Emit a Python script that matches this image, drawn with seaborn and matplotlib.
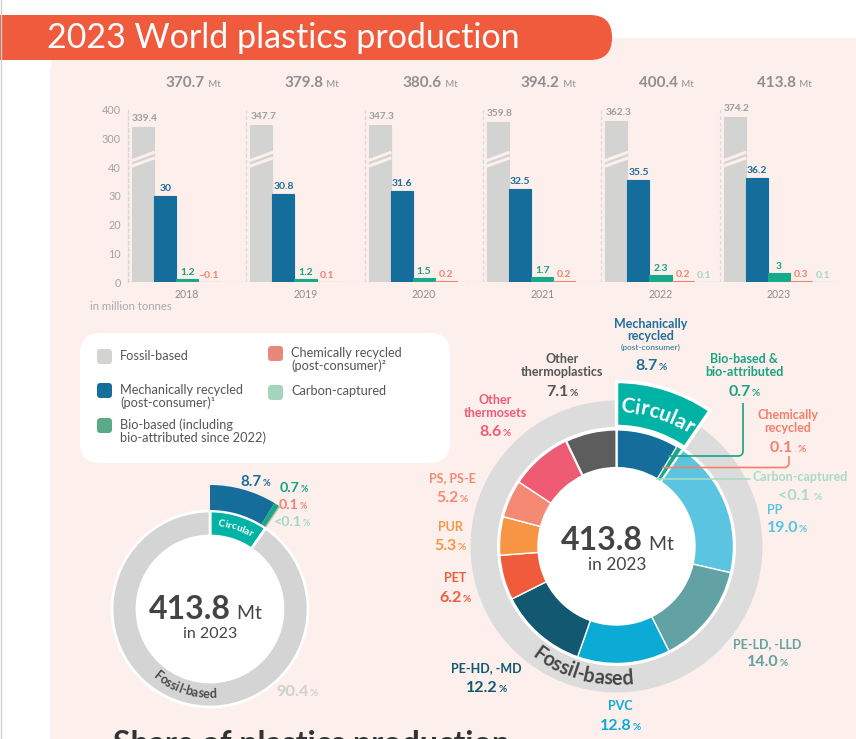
import matplotlib
matplotlib.use('Agg')
import matplotlib.pyplot as plt
from matplotlib.patches import FancyBboxPatch, Circle, PathPatch
from matplotlib.path import Path
from matplotlib.font_manager import FontProperties
import numpy as np
import pandas as pd
import seaborn as sns

# ---------------- data ----------------
years = ['2018', '2019', '2020', '2021', '2022', '2023']
totals = [370.7, 379.8, 380.6, 394.2, 400.4, 413.8]
fossil = [339.4, 347.7, 347.3, 359.8, 362.3, 374.2]
mech = [30, 30.8, 31.6, 32.5, 35.5, 36.2]
bio = [1.2, 1.2, 1.5, 1.7, 2.3, 3]
chem = [0.1, 0.1, 0.2, 0.2, 0.2, 0.3]
chem_labels = ['~0.1', '0.1', '0.2', '0.2', '0.2', '0.3']
carbon = [None, None, None, None, 0.1, 0.1]

types = ['Fossil-based', 'Mechanically recycled', 'Bio-based', 'Chemically recycled', 'Carbon-captured']
bar_colors = ['#d3d3d1', '#156d9b', '#16a98a', '#f2836f', '#a3d9c2']
bar_label_colors = ['#9e9e9e', '#1c6a98', '#16a085', '#f2836f', '#a3d9c2']
ytick_vals = [0, 10, 20, 30, 40, 300, 400]

legend_labels = ['Fossil-based', 'Mechanically recycled\n(post-consumer)\u00b9',
                 'Bio-based (including\nbio-attributed since 2022)',
                 'Chemically recycled\n(post-consumer)\u00b2', 'Carbon-captured']
legend_colors = ['#d3d3d1', '#156d9b', '#5aaa88', '#e8877a', '#a3d5bf']

share_names = ['Mechanically recycled', 'Bio-based', 'Chemically recycled', 'Carbon-captured', 'Fossil-based']
share_values = [8.7, 0.7, 0.1, 0.1, 90.4]
share_text = ['8.7', '0.7', '0.1', '<0.1', '90.4']
share_colors = ['#156d9b', '#16a98a', '#f2836f', '#a3d9c2', '#d4d4d4']
share_text_colors = ['#1c6a98', '#16a085', '#f2836f', '#a3d9c2', '#d0d0d0']

poly_names = ['Mechanically\nrecycled', 'Bio-based &\nbio-attributed', 'Chemically\nrecycled',
              'Carbon-captured', 'PP', 'PE-LD, -LLD', 'PVC', 'PE-HD, -MD', 'PET', 'PUR',
              'PS, PS-E', 'Other\nthermosets', 'Other\nthermoplastics']
poly_values = [8.7, 0.7, 0.1, 0.1, 19.0, 14.0, 12.8, 12.2, 6.2, 5.3, 5.2, 8.6, 7.1]
poly_text = ['8.7', '0.7', '0.1 ', '<0.1 ', '19.0', '14.0', '12.8', '12.2', '6.2', '5.3', '5.2', '8.6', '7.1']
poly_colors = ['#156d9b', '#16a98a', '#f2836f', '#a3d9c2', '#5bc4e0', '#62a1a4', '#0babd6',
               '#115870', '#f05b3b', '#f79545', '#f48a74', '#ef5b73', '#5d5d5d']
poly_text_colors = ['#1f6e9c', '#1aa383', '#f4806b', '#a9dcc4', '#5bc4e0', '#62a1a4', '#0babd6',
                    '#115870', '#f05b3b', '#f79545', '#f48a74', '#ef5b73', '#555555']
# label anchor positions (pixels) : x, name centre y, pct centre y
poly_label_pos = [(651, 330, 364), (744, 365.5, 391), (788, 421.5, 446), (800, 477, 495),
                  (775, 510, 527), (767, 644, 661), (620, 706, 724), (486, 668, 686),
                  (455, 578, 597), (450, 527, 545), (452, 478, 497), (495, 406.5, 431),
                  (562, 365.5, 390)]

TEAL = '#00b3a5'

# ---------------- setup ----------------
sns.set_theme(style='white')
FAM = ['Lato', 'DejaVu Sans']
plt.rcParams['font.family'] = FAM

W, H = 856, 739
fig = plt.figure(figsize=(W / 100, H / 100), dpi=100)
fig.patch.set_facecolor('white')
renderer = fig.canvas.get_renderer()


def fp(size, weight='normal'):
    return FontProperties(family=FAM, size=size, weight=weight)


def tw(s, prop):
    if not s:
        return 0.0
    w, h, d = renderer.get_text_width_height_descent(s, prop, ismath=False)
    return w


bg = fig.add_axes([0, 0, 1, 1], zorder=0, label='bg')
bg.set_xlim(0, W); bg.set_ylim(H, 0); bg.axis('off')
fg = fig.add_axes([0, 0, 1, 1], zorder=20, label='fg')
fg.set_xlim(0, W); fg.set_ylim(H, 0); fg.axis('off')


def two_part(ax, x, y, big, small, color, size, small_size, weight='bold', small_weight=None,
             ha='center', gap=1.0):
    p1 = fp(size, weight)
    p2 = fp(small_size, small_weight or weight)
    w1 = tw(big, p1)
    w2 = tw(small, p2)
    total = w1 + gap + w2
    x0 = x - total / 2 if ha == 'center' else x
    ax.text(x0, y, big, ha='left', va='baseline', fontproperties=p1, color=color)
    ax.text(x0 + w1 + gap, y, small, ha='left', va='baseline', fontproperties=p2, color=color)


def arc_text(ax, s, cx, cy, r, mid_deg, prop, color, top=True):
    total = tw(s, prop)
    mid = np.radians(mid_deg)
    for i, ch in enumerate(s):
        a = tw(s[:i], prop)
        b = tw(s[:i + 1], prop)
        off = (a + b) / 2 - total / 2
        if top:
            th = mid - off / r
            rot = np.degrees(th) - 90
        else:
            th = mid + off / r
            rot = np.degrees(th) + 90
        x = cx + r * np.cos(th)
        y = cy - r * np.sin(th)
        ax.text(x, y, ch, rotation=rot, rotation_mode='anchor', ha='center', va='baseline',
                fontproperties=prop, color=color)


# ---------------- backgrounds ----------------
bg.plot([0.5, 0.5], [0, H], color='#d0d0d0', lw=1)
bg.add_patch(FancyBboxPatch((50, 38), 900, 800, boxstyle='round,pad=0,rounding_size=36',
                            fc='#fcefec', ec='none'))
bg.add_patch(FancyBboxPatch((-40, 15), 652, 45, boxstyle='round,pad=0,rounding_size=22',
                            fc='#f05b3e', ec='none'))
fg.text(47, 38, '2023 World plastics production', color='white', fontproperties=fp(24.5),
        ha='left', va='center')
bg.add_patch(FancyBboxPatch((80, 333), 370, 130, boxstyle='round,pad=0,rounding_size=20',
                            fc='white', ec='none'))

# ---------------- bar chart ----------------
ax = fig.add_axes([128 / W, (H - 282) / H, 710 / W, 172 / H], zorder=5)
ax.set_facecolor('none')


def fwd(v):
    v = np.asarray(v, dtype=float)
    return np.where(v <= 40, v, np.where(v < 300, 40 + (v - 40) / 26.0, 50 + (v - 300) / 10.0))


def inv(u):
    u = np.asarray(u, dtype=float)
    return np.where(u <= 40, u, np.where(u < 50, 40 + (u - 40) * 26.0, 300 + (u - 50) * 10.0))


rows = []
for t, vals in zip(types, [fossil, mech, bio, chem, carbon]):
    for yv, v in zip(years, vals):
        rows.append((yv, t, np.nan if v is None else float(v)))
df = pd.DataFrame(rows, columns=['year', 'type', 'value'])

sns.barplot(data=df, x='year', y='value', hue='type', hue_order=types, order=years,
            palette=dict(zip(types, bar_colors)), width=0.93, gap=0, saturation=1,
            dodge=True, legend=False, errorbar=None, ax=ax, zorder=3)
ax.set_yscale('function', functions=(fwd, inv))
ax.set_ylim(0, 400)
ax.set_xlim(-0.5, len(years) - 0.5)
ax.set_yticks(ytick_vals)
ax.set_yticklabels([str(v) for v in ytick_vals])
ax.set_xlabel(''); ax.set_ylabel('')
ax.tick_params(axis='y', length=0, pad=5, labelsize=7.8, labelcolor='#a3a3a3')
ax.tick_params(axis='x', length=0, pad=5, labelsize=7.6, labelcolor='#8e8e8e')
for s in ['top', 'right', 'bottom']:
    ax.spines[s].set_visible(False)
ax.spines['left'].set_color('#d6d6d6')
ax.spines['left'].set_linestyle((0, (3, 2)))
ax.spines['left'].set_linewidth(0.9)
ax.axhline(0, color='#d6d6d6', ls=(0, (3, 2)), lw=0.9, zorder=1)
for k in range(len(years) - 1):
    ax.axvline(k + 0.5, color='#dadada', ls=(0, (3, 2)), lw=0.9, zorder=1)

for ci, cont in enumerate(ax.containers):
    for bar in cont:
        h = bar.get_height()
        if h is None or np.isnan(h):
            continue
        bar.set_edgecolor(bar.get_facecolor())
        bar.set_linewidth(0.8)
        xc = bar.get_x() + bar.get_width() / 2
        yi = int(round(xc))
        if ci == 0:
            ax.annotate(f'{h:g}', (bar.get_x(), h), xytext=(0, 4), textcoords='offset pixels',
                        ha='left', va='bottom', fontproperties=fp(7.3, 'bold'),
                        color=bar_label_colors[ci])
            x0, x1 = bar.get_x() - 0.005, bar.get_x() + bar.get_width() + 0.005
            ax.plot([x0, x1], [100, 178], color='#fcefec', lw=2.2, zorder=4,
                    solid_capstyle='butt')
            ax.plot([x0, x1], [50, 126], color='#fcefec', lw=2.2, zorder=4,
                    solid_capstyle='butt')
        else:
            lab = chem_labels[yi] if ci == 3 else f'{h:g}'
            ax.annotate(lab, (xc, h), xytext=(0, 3 if ci == 1 else 2),
                        textcoords='offset pixels', ha='center', va='bottom',
                        fontproperties=fp(7.5, 'bold'), color=bar_label_colors[ci])

for i, t in enumerate(totals):
    px = ax.transData.transform((i, 0))[0]
    two_part(fg, px + 6, 87, f'{t:g}', ' Mt', '#8f8f8f', 11, 6.8, weight='bold',
             small_weight='normal')

fg.text(90, 306, 'in million tonnes', fontproperties=fp(8.2), color='#ababab',
        ha='left', va='center')

# ---------------- legend ----------------
leg_pos = [(97, 349, 357), (97, 383, 391), (97, 418, 425), (268, 346, 354), (268, 385, 392)]
for (sx, sy, ty), lab, col in zip(leg_pos, legend_labels, legend_colors):
    bg.add_patch(FancyBboxPatch((sx, sy), 15, 15, boxstyle='round,pad=0,rounding_size=3.5',
                                fc=col, ec='none'))
    fg.text(sx + 23, ty - 7, lab, fontproperties=fp(9.2), color='#555555', ha='left',
            va='top', linespacing=1.08)

# ---------------- left donut ----------------
cxL, cyL, uL = 210, 609, 98.0
axL = fig.add_axes([(cxL - 140) / W, (H - cyL - 140) / H, 280 / W, 280 / H], zorder=6)
circ = sum(share_values[:4])
wd, _ = axL.pie([circ, share_values[4]], radius=1.0, colors=[TEAL, share_colors[4]],
                startangle=90, counterclock=False,
                wedgeprops=dict(width=25 / uL, edgecolor='white', linewidth=2))
wd, _ = axL.pie(share_values, radius=124 / uL, colors=share_colors, startangle=90,
                counterclock=False, wedgeprops=dict(width=25 / uL, linewidth=0))
wd[-1].set_visible(False)
axL.add_patch(Circle((0, 0), 73 / uL, fc='white', ec='none'))
axL.set_xlim(-140 / uL, 140 / uL); axL.set_ylim(-140 / uL, 140 / uL)
axL.set_aspect('equal'); axL.axis('off')

lpos = [(255, 486), (294, 492), (293, 509), (292, 526), (297, 696)]
lsz = [10.8, 10.3, 10.3, 10.3, 11.8]
for (x, y), txt, col, sz in zip(lpos, share_text, share_text_colors, lsz):
    two_part(fg, x, y, txt, '%', col, sz, sz * 0.62)
arc_text(fg, 'Circular', cxL, cyL, 83, 90 - circ * 1.8, fp(7.2, 'bold'), 'white', top=True)
arc_text(fg, 'Fossil-based', cxL, cyL, 89, 252, fp(9, 'bold'), '#4a4a4a', top=False)
two_part(fg, 205, 619, '413.8', ' Mt', '#444444', 23, 14, weight='bold', small_weight='normal')
fg.text(210, 634, 'in 2023', fontproperties=fp(11.5), color='#444444', ha='center', va='center')

# ---------------- right donut ----------------
cxR, cyR, uR = 616.5, 546.5, 146.0
axR = fig.add_axes([(cxR - 190) / W, (H - cyR - 190) / H, 380 / W, 380 / H], zorder=6)
wd, _ = axR.pie(poly_values, radius=117 / uR, colors=poly_colors, startangle=90,
                counterclock=False, wedgeprops=dict(width=38.5 / uR, edgecolor='white',
                                                    linewidth=1.0))
wd[0].set_linewidth(1.6); wd[-1].set_linewidth(1.6)
for w_ in wd[1:4]:
    w_.set_linewidth(0.3)
axR.pie([1], radius=120.5 / uR, colors=['white'], wedgeprops=dict(width=3.5 / uR, linewidth=0))
circR = sum(poly_values[:4])
wd, _ = axR.pie([circR, 100 - circR], radius=1.0, colors=[TEAL, '#dcdcdc'], startangle=90,
                counterclock=False, wedgeprops=dict(width=26.5 / uR, linewidth=0))
wd[0].set_visible(False)
wd, _ = axR.pie([circR, 100 - circR], radius=165 / uR, colors=[TEAL, '#dcdcdc'], startangle=90,
                counterclock=False, wedgeprops=dict(width=45 / uR, edgecolor='white',
                                                    linewidth=2.5))
wd[1].set_visible(False)
axR.add_patch(Circle((0, 0), 78.5 / uR, fc='white', ec='none'))
axR.set_xlim(-190 / uR, 190 / uR); axR.set_ylim(-190 / uR, 190 / uR)
axR.set_aspect('equal'); axR.axis('off')

arc_text(fg, 'Circular', cxR, cyR, 134, 90 - circR * 1.8, fp(15, 'bold'), 'white', top=True)
arc_text(fg, 'Fossil-based', cxR, cyR, 138.5, 254.5, fp(14.2, 'bold'), '#454545', top=False)
two_part(fg, 617, 550, '413.8', ' Mt', '#444444', 23, 14, weight='bold', small_weight='normal')
fg.text(617, 565, 'in 2023', fontproperties=fp(12.5), color='#444444', ha='center', va='center')

for i, (name, txt, col, (x, ny, py)) in enumerate(zip(poly_names, poly_text, poly_text_colors,
                                                       poly_label_pos)):
    fg.text(x, ny, name, fontproperties=fp(9, 'bold'), color=col, ha='center', va='center',
            linespacing=1.05)
    if i == 0:
        fg.text(x, 347, '(post-consumer)', fontproperties=fp(6), color=col, ha='center',
                va='center')
    tx = x
    if i == 4:
        tx = 787
    two_part(fg, tx, py + 5.5, txt, '%', col, 11.5, 7.2)

# leader lines
leaders = [([(668, 456), (738, 456), (743, 456), (743, 451), (743, 403)], '#1aa383'),
           ([(662, 467.5), (784, 467.5), (789, 467.5), (789, 462.5), (789, 456)], '#f4806b')]
codes = [Path.MOVETO, Path.LINETO, Path.CURVE3, Path.CURVE3, Path.LINETO]
for verts, col in leaders:
    fg.add_patch(PathPatch(Path(verts, codes), fc='none', ec=col, lw=1.2))
fg.plot([657, 750], [479, 479], color='#a9dcc4', lw=1.2)

# bottom heading (cut off at the lower edge, as in the source)
fg.text(113, 730, 'Share of plastics production', fontproperties=fp(23, 'bold'),
        color='#333333', ha='left', va='top')

fig.savefig('out.png', dpi=100)
